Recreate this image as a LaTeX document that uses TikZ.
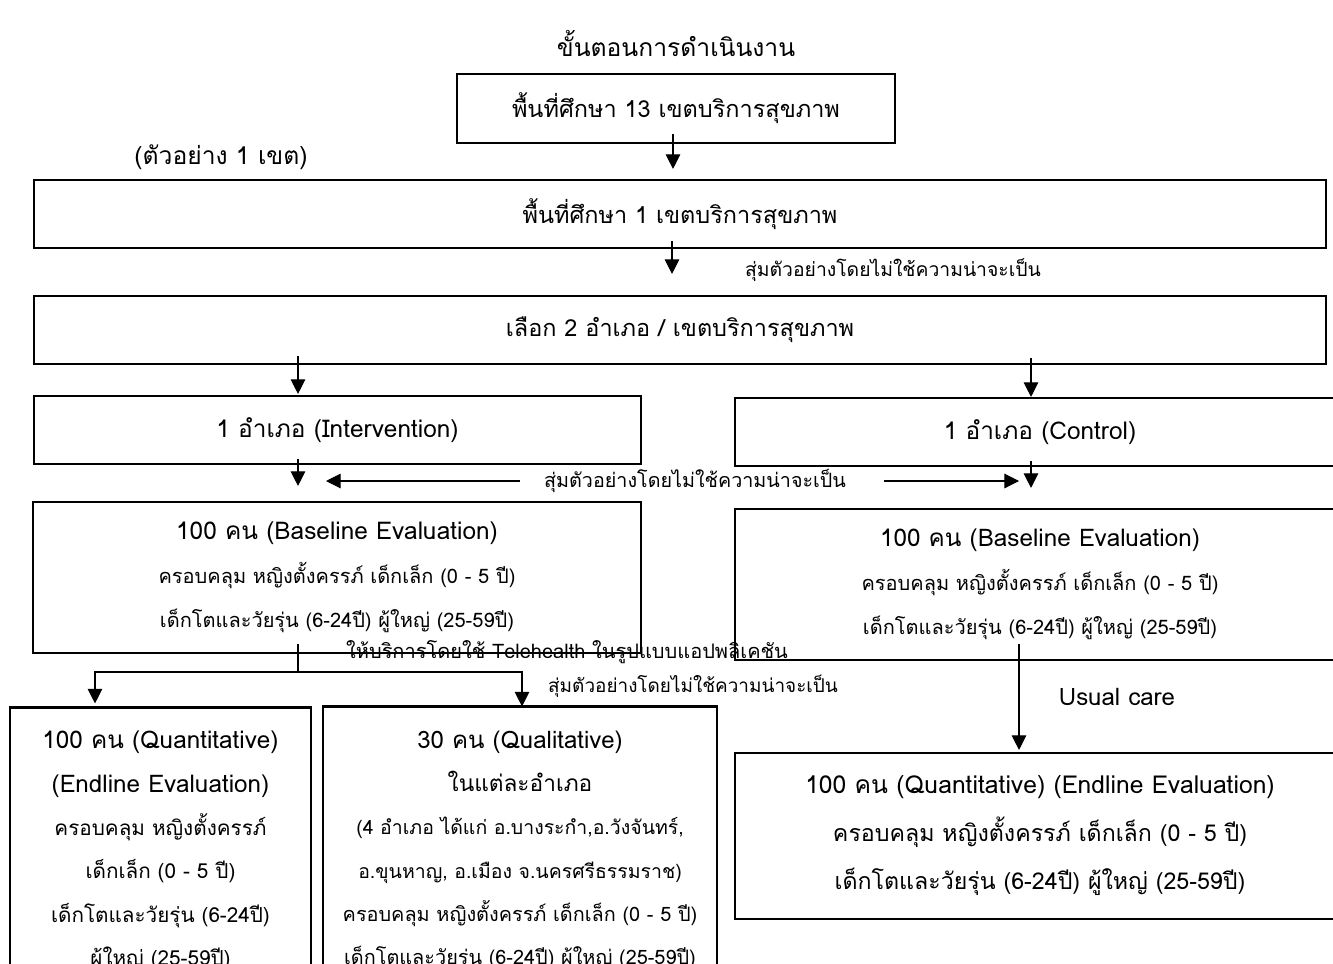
\documentclass[tikz,border=0pt]{standalone}
\usepackage{fontspec}
\setmainfont[Script=Thai]{Loma}
\usetikzlibrary{arrows.meta}
\newdimen\px \px=0.75pt
\newcommand\fz[1]{\fontsize{#1}{33}\selectfont}
\begin{document}
\begin{tikzpicture}[x=0.75pt,y=-0.75pt,
  box/.style={draw, line width=1.6pt, inner sep=0pt, align=center},
  txt/.style={inner sep=0pt, align=center},
  fa/.style={font=\fontsize{17.6}{20}\selectfont},
  fl/.style={font=\fontsize{14.5}{20}\selectfont},
  fb/.style={font=\fontsize{15}{33}\selectfont},
  fc/.style={font=\fontsize{15.5}{32.5}\selectfont},
  fd/.style={font=\fontsize{17.4}{36}\selectfont},
  conn/.style={line width=0.8pt, -{Triangle[length=11pt,width=11pt]}},
  plain/.style={line width=0.8pt}]
\useasboundingbox (0,0) rectangle (1333,963);
\clip (0,0) rectangle (1333,963);

\node[txt, font=\fontsize{18.5}{20}\selectfont] (title) at (676,44) {ขั้นตอนการดำเนินงาน};
\node[box, fa, minimum width=438\px, minimum height=69\px] (b1) at (676,108.5) {พื้นที่ศึกษา 13 เขตบริการสุขภาพ};
\node[txt, font=\fontsize{18.5}{20}\selectfont] (sample) at (221,157) {(ตัวอย่าง 1 เขต)};
\node[box, fa, minimum width=1292\px, minimum height=68\px] (b2) at (680,214) {พื้นที่ศึกษา 1 เขตบริการสุขภาพ};
\node[txt, fl] (lab1) at (893,270) {สุ่มตัวอย่างโดยไม่ใช้ความน่าจะเป็น};
\node[box, fa, minimum width=1292\px, minimum height=68\px] (b3) at (680,330) {เลือก 2 อำเภอ / เขตบริการสุขภาพ};
\node[box, font=\fontsize{18.3}{20}\selectfont, minimum width=607\px, minimum height=68\px] (b4) at (337.5,430) {1 อำเภอ (Intervention)};
\node[box, font=\fontsize{18.3}{20}\selectfont, minimum width=610\px, minimum height=68\px] (b5) at (1040,432) {1 อำเภอ (Control)};
\node[txt, font=\fontsize{14.8}{20}\selectfont] (lab2) at (695,481) {สุ่มตัวอย่างโดยไม่ใช้ความน่าจะเป็น};
\node[box, fb, minimum width=608\px, minimum height=151\px] (b6) at (337,577.5)
  {{\fz{18.3}100 คน (Baseline Evaluation)}\\ครอบคลุม หญิงตั้งครรภ์ เด็กเล็ก (0 - 5 ปี)\\เด็กโตและวัยรุ่น (6-24ปี) ผู้ใหญ่ (25-59ปี)};
\node[box, fb, minimum width=610\px, minimum height=151\px] (b7) at (1040,584.5)
  {{\fz{18.2}100 คน (Baseline Evaluation)}\\ครอบคลุม หญิงตั้งครรภ์ เด็กเล็ก (0 - 5 ปี)\\เด็กโตและวัยรุ่น (6-24ปี) ผู้ใหญ่ (25-59ปี)};
\node[txt, font=\fontsize{15}{20}\selectfont] (tele) at (567,652) {ให้บริการโดยใช้ Telehealth ในรูปแบบแอปพลิเคชัน};
\node[txt, font=\fontsize{14.2}{20}\selectfont] (lab3) at (693,686) {สุ่มตัวอย่างโดยไม่ใช้ความน่าจะเป็น};
\node[box, fc, minimum width=301\px, minimum height=287\px] (b8) at (160.5,851)
  {{\fz{18.2}100 คน (Quantitative)}\\{\fz{18.2}(Endline Evaluation)}\\ครอบคลุม หญิงตั้งครรภ์\\เด็กเล็ก (0 - 5 ปี)\\เด็กโตและวัยรุ่น (6-24ปี)\\ผู้ใหญ่ (25-59ปี)};
\node[box, fc, minimum width=394\px, minimum height=288\px] (b9) at (520,850.5)
  {{\fz{18}30 คน (Qualitative)}\\{\fz{17}ในแต่ละอำเภอ}\\{\fz{14.6}(4 อำเภอ ได้แก่ อ.บางระกำ,อ.วังจันทร์,}\\{\fz{14.6}อ.ขุนหาญ, อ.เมือง จ.นครศรีธรรมราช)}\\{\fz{14.9}ครอบคลุม หญิงตั้งครรภ์ เด็กเล็ก (0 - 5 ปี)}\\{\fz{14.9}เด็กโตและวัยรุ่น (6-24ปี) ผู้ใหญ่ (25-59ปี)}};
\node[txt, font=\fontsize{18}{20}\selectfont] (usual) at (1117,697) {Usual care};
\node[box, fd, minimum width=610\px, minimum height=166\px] (b10) at (1040,836)
  {{\fz{18.5}100 คน (Quantitative) (Endline Evaluation)}\\ครอบคลุม หญิงตั้งครรภ์ เด็กเล็ก (0 - 5 ปี)\\เด็กโตและวัยรุ่น (6-24ปี) ผู้ใหญ่ (25-59ปี)};

% connectors
\draw[conn] ([xshift=-3\px,yshift=10\px]b1.south) -- ([xshift=-7\px,yshift=10\px]b2.north);
\draw[conn] ([xshift=-8\px,yshift=8\px]b2.south) -- ([xshift=-8\px,yshift=21\px]b3.north);
\draw[conn] (b3.south -| 298,0) ++(0,-9) -- ([yshift=1\px]b4.north -| 298,0);
\draw[conn] (b3.south -| 1031,0) ++(0,-7) -- ([yshift=0\px]b5.north -| 1031,0);
\draw[conn] (b4.south -| 298,0) ++(0,-6) -- ([yshift=15\px]b6.north -| 298,0);
\draw[conn] (b5.south -| 1031,0) ++(0,-6) -- ([yshift=20\px]b7.north -| 1031,0);
\coordinate (l2a) at (326,481);
\coordinate (l2b) at (1019,481);
\draw[conn] ([xshift=-24\px]lab2.west) -- (l2a);
\draw[conn] ([xshift=38\px]lab2.east) -- (l2b);
\coordinate (split) at (298,672);
\draw[plain] (b6.south -| 298,0) ++(0,-10) -- (split);
\draw[conn] (split) -| ([yshift=3\px]b8.north -| 95,0);
\draw[conn] (split) -| ([yshift=-1\px]b9.north -| 522,0);
\draw[conn] (b7.south -| 1019,0) ++(0,-17) -- ([yshift=2\px]b10.north -| 1019,0);
\end{tikzpicture}
\end{document}
